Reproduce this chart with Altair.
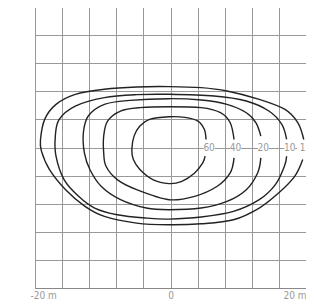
import altair as alt
import pandas as pd

# contour levels and their outlines (metres), open at the label gap
levels = ["60", "40", "20", "10", "1"]

c60_x = [5.1, 4.76, 3.57, 1.67, -0.24, -2.62, -4.52, -5.48, -5.71, -5.38, -4.52, -3.1, -0.24, 2.14, 4.05, 5.0, 5.24]
c60_y = [-1.24, -2.19, -3.62, -4.81, -5.14, -4.57, -3.14, -1.71, -0.29, 1.62, 3.05, 4.0, 4.38, 4.29, 3.76, 2.57, 1.14]

c40_x = [9.38, 8.81, 6.9, 3.57, -0.24, -5.0, -7.86, -9.52, -9.86, -9.86, -9.29, -7.38, -4.52, -0.24, 4.52, 7.38, 8.81, 9.38]
c40_y = [-1.48, -3.62, -5.52, -6.95, -7.43, -6.0, -4.57, -2.67, -0.76, 1.62, 3.76, 5.19, 5.67, 5.81, 5.67, 4.95, 3.52, 1.14]

c20_x = [13.33, 12.86, 11.19, 8.33, 4.52, -0.24, -3.57, -7.38, -10.24, -11.9, -12.71, -12.86, -12.14, -9.76, -5.95, -0.24, 4.52, 8.33, 11.19, 12.62, 13.33]
c20_y = [-1.48, -3.62, -6.0, -7.67, -8.62, -8.86, -8.62, -7.43, -5.52, -3.14, -0.76, 2.1, 4.48, 6.14, 6.71, 6.95, 6.76, 6.14, 4.95, 3.52, 1.62]

c10_x = [17.14, 16.81, 15.48, 13.1, 9.29, 4.52, -0.24, -3.57, -7.86, -11.19, -13.57, -15.71, -16.9, -17.0, -16.43, -14.05, -9.76, -5.0, -0.24, 6.43, 11.19, 14.52, 16.43, 17.14]
c10_y = [-1.24, -2.67, -5.29, -7.43, -9.1, -9.9, -10.19, -10.05, -9.57, -8.62, -6.95, -4.57, -1.24, 1.62, 4.0, 5.9, 7.1, 7.52, 7.57, 7.33, 6.62, 5.19, 3.29, 1.14]

c1_x = [19.52, 18.33, 15.95, 13.1, 9.29, 4.52, -0.24, -5.0, -9.76, -12.62, -15.48, -17.86, -19.05, -19.19, -18.57, -16.9, -14.05, -9.76, -5.0, -0.24, 4.52, 8.33, 13.1, 16.9, 18.81, 19.67]
c1_y = [-1.71, -4.1, -6.48, -8.62, -10.29, -10.86, -11.0, -10.76, -9.81, -8.38, -6.0, -3.14, -0.52, 1.14, 4.0, 6.14, 7.57, 8.29, 8.62, 8.67, 8.52, 8.05, 6.86, 5.43, 3.52, 1.14]

label_x = [5.7, 9.6, 13.7, 17.6, 19.5]
label_y = [0, 0, 0, 0, 0]

grid_values = [-20, -16, -12, -8, -4, 0, 4, 8, 12, 16, 20]

rows = []
for lev, xs, ys in zip(levels, [c60_x, c40_x, c20_x, c10_x, c1_x], [c60_y, c40_y, c20_y, c10_y, c1_y]):
    for i, (a, b) in enumerate(zip(xs, ys)):
        rows.append({"level": lev, "i": i, "x": a, "y": b})
lines_df = pd.DataFrame(rows)
labels_df = pd.DataFrame({"level": levels, "x": label_x, "y": label_y})

FONT = "Liberation Sans Narrow, DejaVu Sans Condensed, Liberation Sans, sans-serif"

xscale = alt.Scale(domain=[-20, 20], nice=False, zero=False)
yscale = alt.Scale(domain=[-20, 20], nice=False, zero=False)

xaxis = alt.Axis(
    values=grid_values, grid=True, ticks=False, domain=True, domainColor="#888",
    gridColor="#999", gridWidth=1, title=None,
    labelExpr="datum.value == 0 ? '0' : (abs(datum.value) == 20 ? datum.value + ' m' : '')",
    labelFlush=True, labelFlushOffset=0,
    labelOffset={"condition": {"test": "datum.value == -20", "value": -5}, "value": 0},
    labelColor="#999", labelFontSize=10,
    labelFont=FONT, labelPadding=2, labelOverlap=False,
)
yaxis = alt.Axis(
    values=grid_values, grid=True, ticks=False, domain=False, labels=False,
    gridColor="#999", gridWidth=1, title=None,
)

X = alt.X("x:Q", scale=xscale, axis=xaxis)
Y = alt.Y("y:Q", scale=yscale, axis=yaxis)

bg = alt.Chart(labels_df).mark_square(color="white", opacity=1, size=120).encode(x=X, y=Y)
txt = alt.Chart(labels_df).mark_text(color="#999", fontSize=10, font=FONT).encode(
    x=X, y=Y, text="level:N"
)
lines = alt.Chart(lines_df).mark_line(
    color="#222", strokeWidth=1.4, interpolate="cardinal"
).encode(x=X, y=Y, detail="level:N", order="i:Q")

chart = alt.layer(bg, txt, lines).properties(
    width=271, height=281,
    autosize=alt.AutoSizeParams(type="none"),
    padding={"left": 27, "top": -1, "right": 0, "bottom": 12},
).configure_view(strokeWidth=0)

chart.save("out.html", embed_options={"renderer": "svg", "actions": False})
